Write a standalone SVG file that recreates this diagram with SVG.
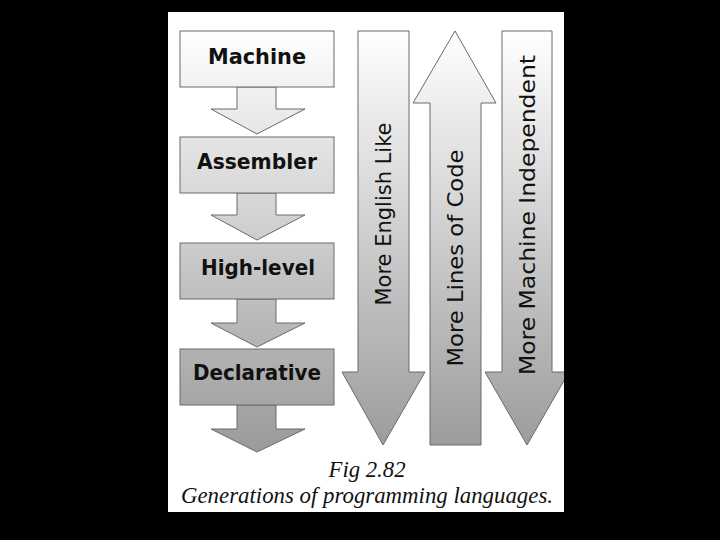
<svg xmlns="http://www.w3.org/2000/svg" width="720" height="540" viewBox="0 0 720 540">
<defs>
<linearGradient id="gl" gradientUnits="userSpaceOnUse" x1="0" y1="30" x2="0" y2="452">
<stop offset="0" stop-color="#ffffff"/><stop offset="1" stop-color="#9a9a9a"/>
</linearGradient>
<linearGradient id="gr" gradientUnits="userSpaceOnUse" x1="0" y1="31" x2="0" y2="445">
<stop offset="0" stop-color="#ffffff"/><stop offset="1" stop-color="#9c9c9c"/>
</linearGradient>
<clipPath id="panel"><rect x="168" y="12" width="396" height="500"/></clipPath>
</defs>
<style>
.shape{stroke:#6a6a6a;stroke-width:1}
.lbl{font-family:"DejaVu Sans",sans-serif;font-weight:bold;font-size:21px;fill:#111;text-anchor:middle}
.vl{font-family:"DejaVu Sans",sans-serif;font-size:21px;fill:#111;text-anchor:middle}
.cap{font-family:"Liberation Serif",serif;font-style:italic;font-size:23px;fill:#111;text-anchor:middle}
</style>
<rect width="720" height="540" fill="#000"/>
<rect x="168" y="12" width="396" height="500" fill="#fff"/>
<g id="connectors">
<polygon class="shape" fill="url(#gl)" points="237,87 276,87 276,109 305,109 257,134 211,109 237,109"/>
<polygon class="shape" fill="url(#gl)" points="237,193 276,193 276,215 305,215 257,240 211,215 237,215"/>
<polygon class="shape" fill="url(#gl)" points="237,299 276,299 276,323 305,323 257,347 211,323 237,323"/>
<polygon class="shape" fill="url(#gl)" points="237,405 276,405 276,429 305,429 257,452 211,429 237,429"/>
</g>
<g id="machine"><rect class="shape" x="180" y="31" width="154" height="56" fill="url(#gl)"/><text class="lbl" x="257" y="64" textLength="98" lengthAdjust="spacingAndGlyphs">Machine</text></g>
<g id="assembler"><rect class="shape" x="180" y="137" width="154" height="56" fill="url(#gl)"/><text class="lbl" x="257" y="169" textLength="120" lengthAdjust="spacingAndGlyphs">Assembler</text></g>
<g id="highlevel"><rect class="shape" x="180" y="243" width="154" height="56" fill="url(#gl)"/><text class="lbl" x="258" y="275" textLength="114" lengthAdjust="spacingAndGlyphs">High-level</text></g>
<g id="declarative"><rect class="shape" x="180" y="349" width="154" height="56" fill="url(#gl)"/><text class="lbl" x="257" y="380" textLength="128" lengthAdjust="spacingAndGlyphs">Declarative</text></g>
<g id="english">
<polygon class="shape" fill="url(#gr)" points="358,31 409,31 409,372 425,372 383,445 342,372 358,372"/>
<text class="vl" transform="translate(383,214) rotate(-90)" x="0" y="8" textLength="183" lengthAdjust="spacingAndGlyphs">More English Like</text>
</g>
<g id="lines">
<polygon class="shape" fill="url(#gr)" points="455,31 496,103 481,103 481,445 430,445 430,103 413,103"/>
<text class="vl" transform="translate(455,258) rotate(-90)" x="0" y="8" textLength="217" lengthAdjust="spacingAndGlyphs">More Lines of Code</text>
</g>
<g id="independent" clip-path="url(#panel)">
<polygon class="shape" fill="url(#gr)" points="502,31 552,31 552,372 569,372 527,445 485,372 502,372"/>
<text class="vl" transform="translate(527,215) rotate(-90)" x="0" y="8" textLength="320" lengthAdjust="spacingAndGlyphs">More Machine Independent</text>
</g>
<g id="caption">
<text class="cap" x="367" y="477" textLength="77" lengthAdjust="spacingAndGlyphs">Fig 2.82</text>
<text class="cap" x="367" y="503" textLength="372" lengthAdjust="spacingAndGlyphs">Generations of programming languages.</text>
</g>
</svg>
